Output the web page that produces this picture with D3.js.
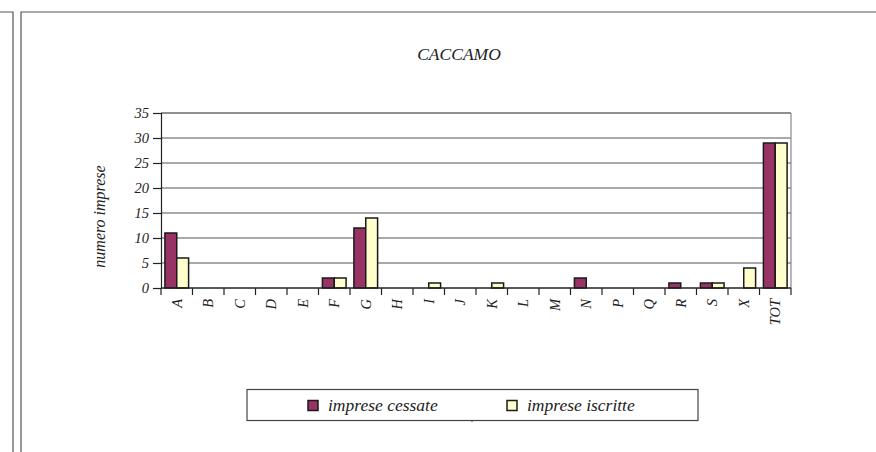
<!DOCTYPE html>
<html><head><meta charset="utf-8">
<script src="https://cdn.jsdelivr.net/npm/d3@7/dist/d3.min.js"></script>
<style>body{margin:0;background:#fff}svg{display:block}text{font-family:"Liberation Serif","Times New Roman",serif;font-style:italic;fill:#222}</style>
</head><body><svg id="c" width="876" height="452"></svg>
<script>
const title = "CACCAMO";
const categories = ["A","B","C","D","E","F","G","H","I","J","K","L","M","N","P","Q","R","S","X","TOT"];
const cessate = [11,0,0,0,0,2,12,0,0,0,0,0,0,2,0,0,1,1,0,29];
const iscritte = [6,0,0,0,0,2,14,0,1,0,1,0,0,0,0,0,0,1,4,29];
const seriesNames = ["imprese cessate","imprese iscritte"];
const seriesColors = ["#993366","#FFFFCC"];
const yTicks = [0,5,10,15,20,25,30,35];
const yTitle = "numero imprese";

const svg = d3.select("#c");
// frames
svg.append("path").attr("d","M0,12H13V452").attr("fill","none").attr("stroke","#555").attr("stroke-width",1.2);
svg.append("path").attr("d","M21,452V12H876").attr("fill","none").attr("stroke","#555").attr("stroke-width",1.2);

const L=161, R=791, T=113, B=288;
const x = d3.scaleBand().domain(categories).range([L,R]).paddingInner(0).paddingOuter(0);
const inner = d3.scaleBand().domain([0,1]).range([0,x.bandwidth()]).paddingOuter(0.33).paddingInner(0);
const y = d3.scaleLinear().domain([0,35]).range([B,T]);

svg.append("text").attr("x",459).attr("y",60).attr("text-anchor","middle").attr("font-size",17.5).text(title);

// gridlines
svg.append("g").selectAll("line").data(yTicks.filter(d=>d>0)).join("line")
  .attr("x1",L).attr("x2",R).attr("y1",d=>y(d)).attr("y2",d=>y(d))
  .attr("stroke",d=>d===35?"#222":"#555").attr("stroke-width",1.2);
svg.append("line").attr("x1",R).attr("x2",R).attr("y1",T).attr("y2",B).attr("stroke","#888").attr("stroke-width",1.2);

// y axis
const yAxis = d3.axisLeft(y).tickValues(yTicks).tickSize(8).tickPadding(4);
const gy = svg.append("g").attr("transform",`translate(${L},0)`).call(yAxis);
gy.select(".domain").attr("stroke","#222").attr("stroke-width",1.2);
gy.selectAll(".tick line").attr("stroke","#222").attr("stroke-width",1.2);
gy.selectAll("text").attr("font-size",14.5).attr("fill","#222");

svg.append("text").attr("transform",`translate(105,216.5) rotate(-90)`).attr("text-anchor","middle").attr("font-size",16).text(yTitle);

// bars
const data = categories.map((c,i)=>({c, v:[cessate[i],iscritte[i]]}));
const g = svg.append("g");
data.forEach(d=>{
  d.v.forEach((v,j)=>{
    if(v<=0) return;
    g.append("rect").attr("x",x(d.c)+inner(j)).attr("width",inner.bandwidth())
      .attr("y",y(v)).attr("height",y(0)-y(v)).attr("fill",seriesColors[j])
      .attr("stroke","#1a1a1a").attr("stroke-width",1.5);
  });
});

// x axis
svg.append("line").attr("x1",L).attr("x2",R).attr("y1",B).attr("y2",B).attr("stroke","#222").attr("stroke-width",1.5);
const bounds = categories.map(c=>x(c)).concat([R]);
svg.append("g").selectAll("line").data(bounds).join("line")
  .attr("x1",d=>d).attr("x2",d=>d).attr("y1",B).attr("y2",B+7).attr("stroke","#222").attr("stroke-width",1.2);
svg.append("g").selectAll("text").data(categories).join("text")
  .attr("transform",d=>`translate(${x(d)+x.bandwidth()/2+5},${B+11}) rotate(-90)`)
  .attr("text-anchor","end").attr("font-size",14.5).text(d=>d);

// legend
svg.append("rect").attr("x",247).attr("y",389.5).attr("width",451).attr("height",31).attr("fill","#fff").attr("stroke","#444").attr("stroke-width",1.2);
svg.append("line").attr("x1",472).attr("x2",472).attr("y1",420).attr("y2",422).attr("stroke","#444");
const lx=[308,507];
seriesNames.forEach((n,i)=>{
  svg.append("rect").attr("x",lx[i]).attr("y",400.5).attr("width",10).attr("height",10).attr("fill",seriesColors[i]).attr("stroke","#1a1a1a").attr("stroke-width",1.5);
  svg.append("text").attr("x",lx[i]+20).attr("y",410.5).attr("font-size",17.5).text(n);
});
</script></body></html>
